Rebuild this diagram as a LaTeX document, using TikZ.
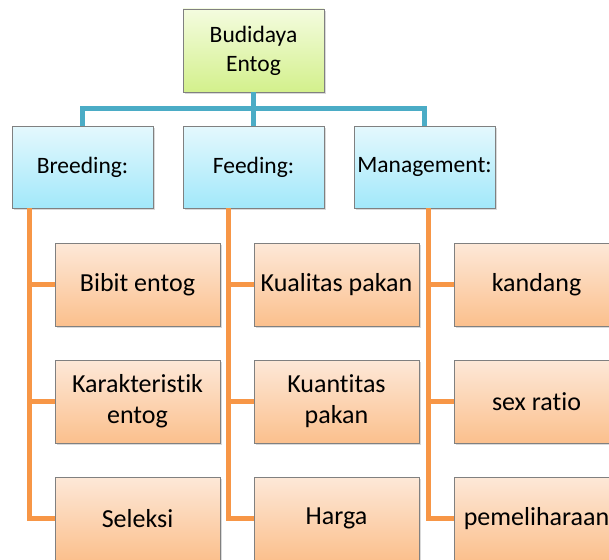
\documentclass[tikz,border=0pt]{standalone}
\usepackage{fontspec}
\setmainfont{Carlito}[Ligatures=NoCommon]
\usepackage{tikz}
\usetikzlibrary{shadows}

\definecolor{rootTop}{HTML}{F4FCDF}
\definecolor{rootBot}{HTML}{D3F08C}
\definecolor{catTop}{HTML}{E4F8FD}
\definecolor{catBot}{HTML}{A2E8FA}
\definecolor{itemTop}{HTML}{FDE8D8}
\definecolor{itemBot}{HTML}{FBC08D}
\definecolor{lineBlue}{HTML}{4BACC6}
\definecolor{lineOrange}{HTML}{F79646}

\begin{document}
\begin{tikzpicture}[x=1pt, y=-1pt,
    box/.style={draw=black!50, line width=0.8pt, align=center, inner sep=2pt,
        minimum width=141pt, minimum height=82pt,
        drop shadow={shadow xshift=2pt, shadow yshift=-2pt, opacity=0.3},
        font=\fontsize{23.5}{29}\selectfont},
    rootbox/.style={box, minimum height=83pt, top color=rootTop, bottom color=rootBot},
    catbox/.style={box, top color=catTop, bottom color=catBot},
    itembox/.style={box, minimum width=165pt, minimum height=83pt,
        top color=itemTop, bottom color=itemBot, font=\fontsize{26}{31}\selectfont},
    blueline/.style={draw=lineBlue, line width=5pt},
    orangeline/.style={draw=lineOrange, line width=4.5pt}]
    % Canvas
    \useasboundingbox (0,0) rectangle (609,559);
    \clip (0,0) rectangle (609,559);

    % Root
    \node[rootbox] (root) at (253.5,50.5) {Budidaya\\Entog};

    % Categories
    \node[catbox] (breed) at (82.5,167) {Breeding:};
    \node[catbox] (feed) at (253.5,167) {Feeding:};
    \node[catbox] (mgmt) at (424.5,167) {Management:};

    % Breeding items
    \node[itembox] (b1) at (137.5,284.5) {Bibit entog};
    \node[itembox] (b2) at (137.5,401.5) {Karakteristik\\entog};
    \node[itembox] (b3) at (137.5,518.5) {Seleksi};

    % Feeding items
    \node[itembox] (f1) at (336.5,284.5) {Kualitas pakan};
    \node[itembox] (f2) at (336.5,401.5) {Kuantitas\\pakan};
    \node[itembox] (f3) at (336.5,518.5) {Harga};

    % Management items
    \node[itembox] (m1) at (536.5,284.5) {kandang};
    \node[itembox] (m2) at (536.5,401.5) {sex ratio};
    \node[itembox] (m3) at (536.5,518.5) {pemeliharaan};

    % Root to categories
    \coordinate (bus) at (253.5,108);
    \draw[blueline] (root.south) -- (feed.north);
    \draw[blueline] (bus) -| (breed.north);
    \draw[blueline] (bus) -| (mgmt.north);

    % Trunk points
    \coordinate (bt) at ([xshift=-25pt]b1.west);
    \coordinate (ft) at ([xshift=-25pt]f1.west);
    \coordinate (mt) at ([xshift=-25pt]m1.west);

    % Categories to items
    \draw[orangeline] (breed.south -| bt) |- (b3.west);
    \draw[orangeline] (bt) -- (b1.west);
    \draw[orangeline] (bt |- b2.west) -- (b2.west);

    \draw[orangeline] (feed.south -| ft) |- (f3.west);
    \draw[orangeline] (ft) -- (f1.west);
    \draw[orangeline] (ft |- f2.west) -- (f2.west);

    \draw[orangeline] (mgmt.south -| mt) |- (m3.west);
    \draw[orangeline] (mt) -- (m1.west);
    \draw[orangeline] (mt |- m2.west) -- (m2.west);
\end{tikzpicture}
\end{document}
